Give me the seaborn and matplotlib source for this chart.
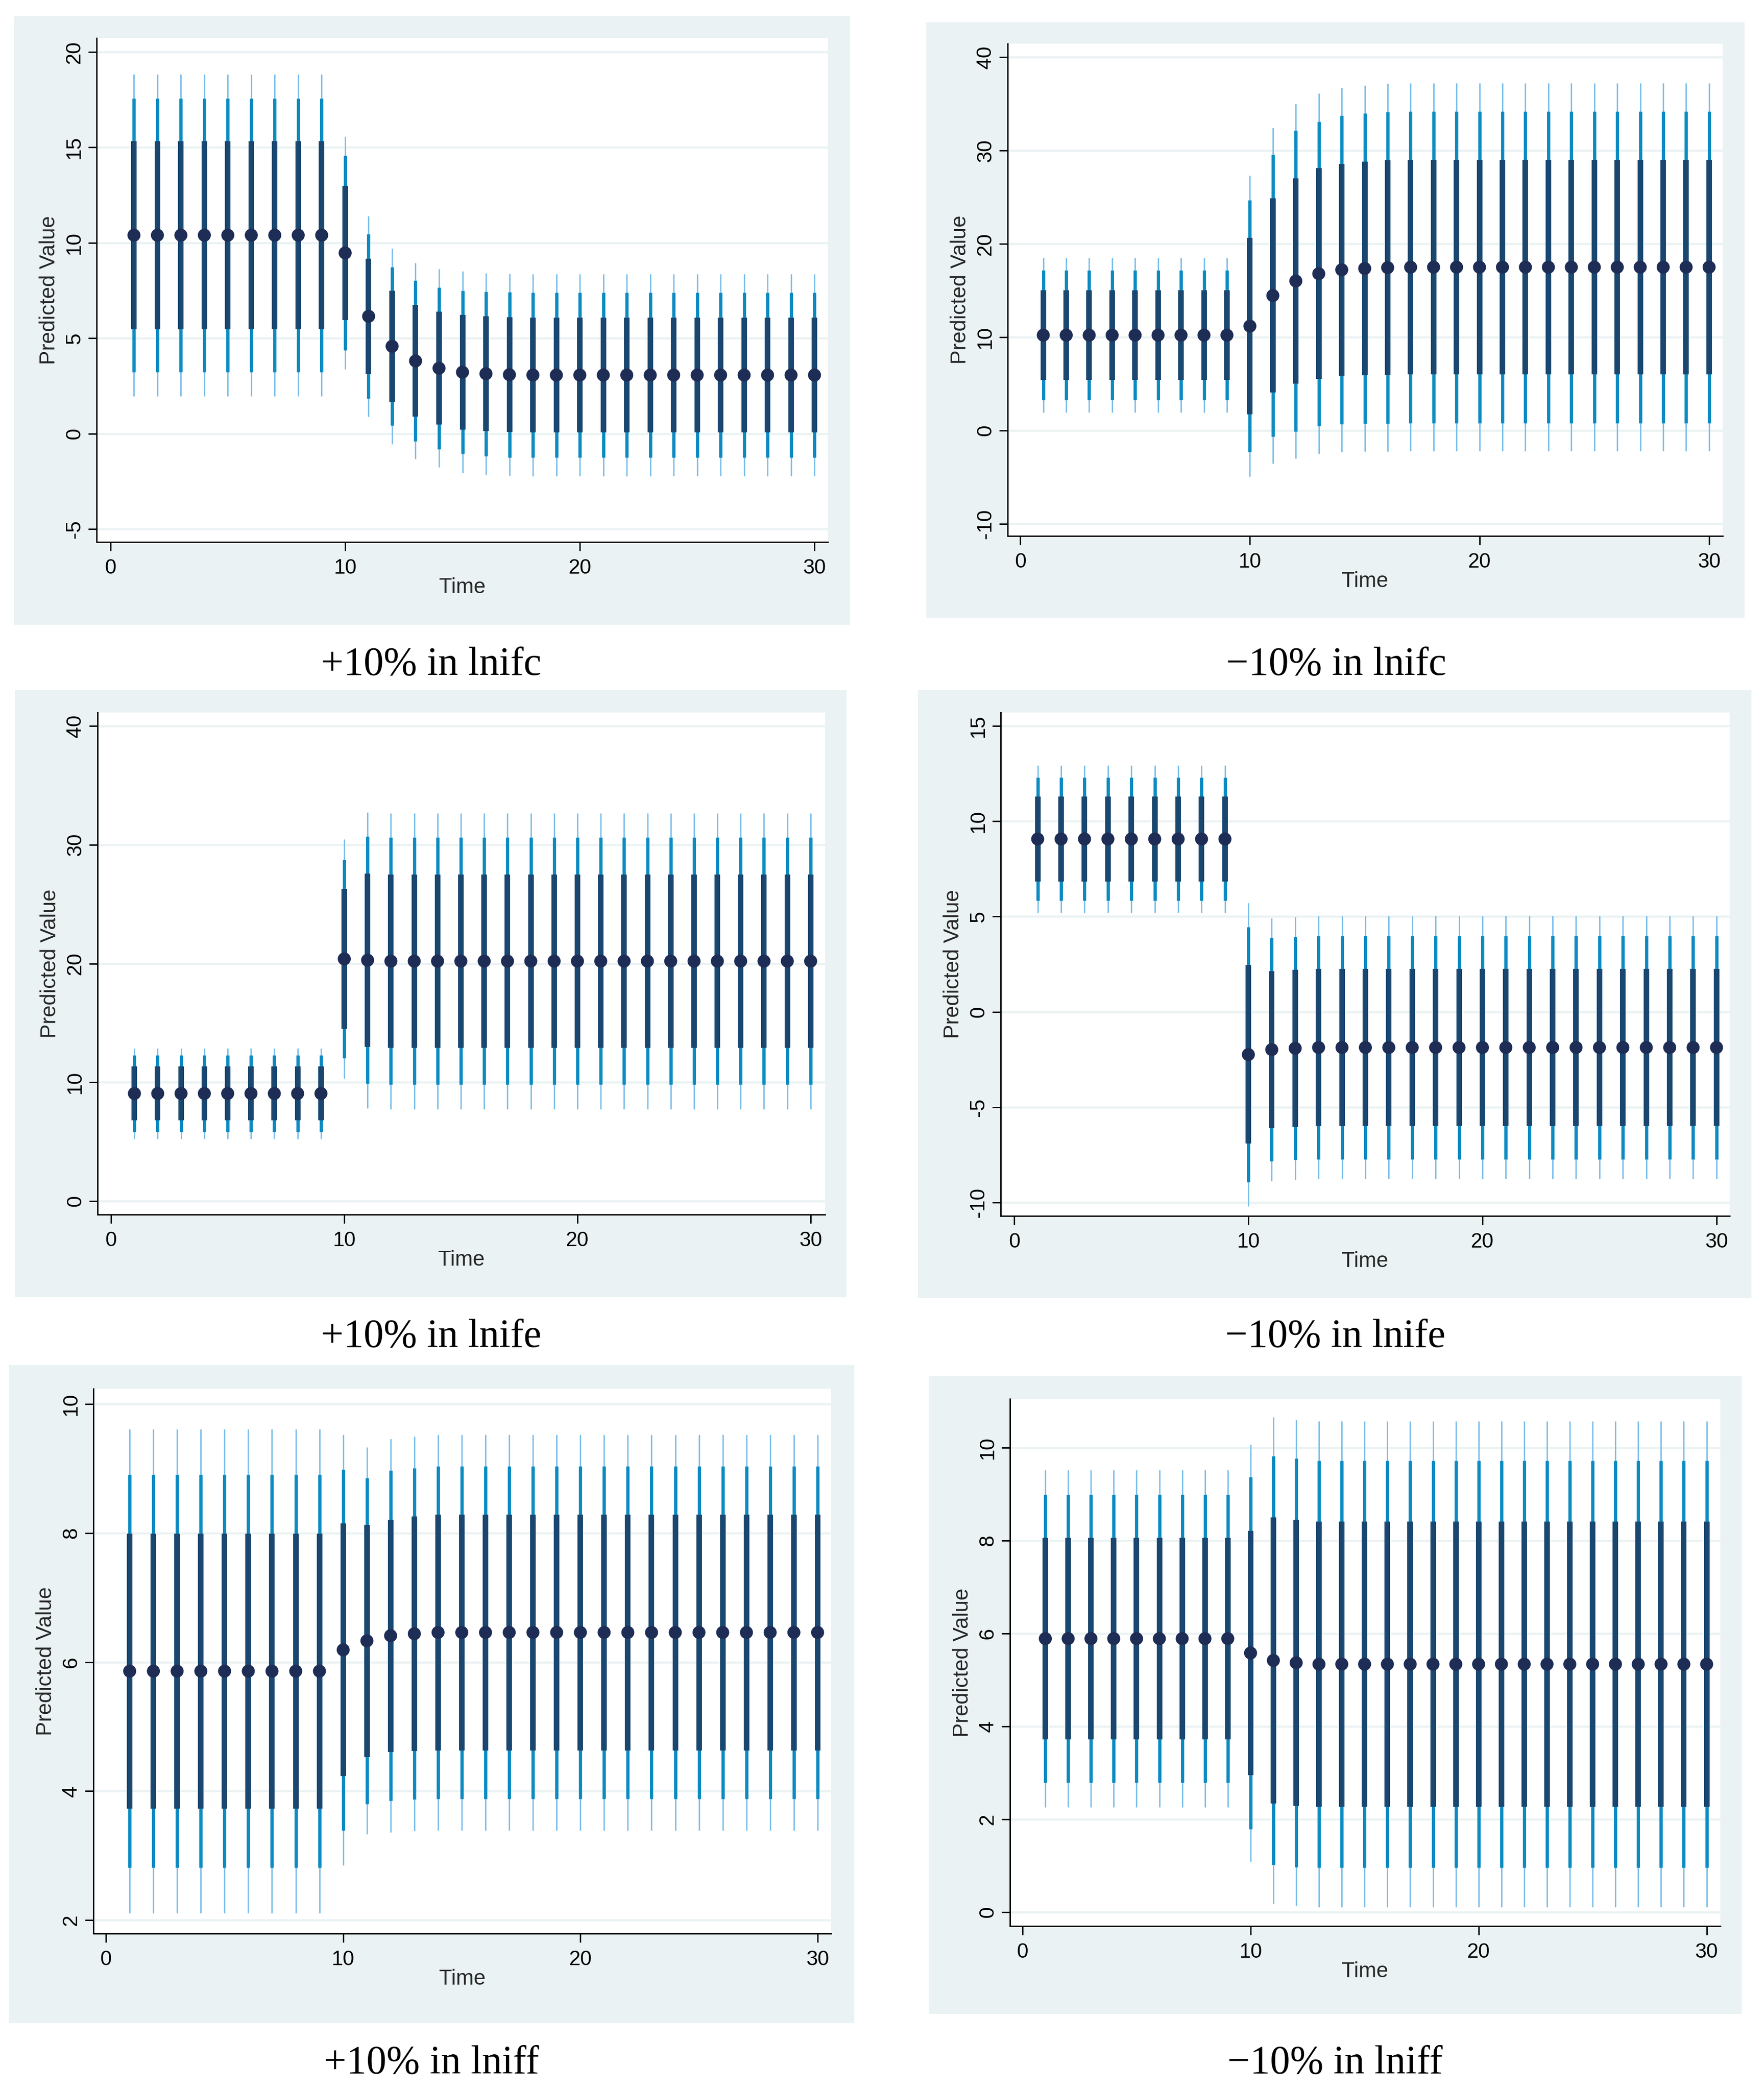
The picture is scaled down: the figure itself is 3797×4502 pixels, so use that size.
import numpy as np
import pandas as pd
import matplotlib
matplotlib.use("Agg")
import matplotlib.pyplot as plt
import seaborn as sns
from matplotlib.patches import Rectangle

# ---------------- data ----------------
time = list(range(1, 31))

titles = ["+10% in lnifc", "\u221210% in lnifc",
          "+10% in lnife", "\u221210% in lnife",
          "+10% in lniff", "\u221210% in lniff"]

# panel 1: +10% in lnifc
lnifc_up_mean = [10.40, 10.40, 10.40, 10.40, 10.40, 10.40, 10.40, 10.40, 10.40, 9.47,
                 6.15, 4.58, 3.81, 3.43, 3.22, 3.14, 3.09, 3.07, 3.07, 3.07,
                 3.07, 3.07, 3.07, 3.07, 3.07, 3.07, 3.07, 3.07, 3.07, 3.07]
lnifc_up_in = [4.93, 4.93, 4.93, 4.93, 4.93, 4.93, 4.93, 4.93, 4.93, 3.52,
               3.02, 2.92, 2.93, 2.96, 3.00, 3.00, 3.00, 3.00, 3.00, 3.00,
               3.00, 3.00, 3.00, 3.00, 3.00, 3.00, 3.00, 3.00, 3.00, 3.00]
lnifc_up_mid = [7.17, 7.17, 7.17, 7.17, 7.17, 7.17, 7.17, 7.17, 7.17, 5.10,
                4.32, 4.15, 4.22, 4.24, 4.28, 4.31, 4.33, 4.33, 4.33, 4.33,
                4.33, 4.33, 4.33, 4.33, 4.33, 4.33, 4.33, 4.33, 4.33, 4.33]
lnifc_up_out = [8.43, 8.43, 8.43, 8.43, 8.43, 8.43, 8.43, 8.43, 8.43, 6.10,
                5.25, 5.12, 5.14, 5.20, 5.28, 5.28, 5.30, 5.30, 5.30, 5.30,
                5.30, 5.30, 5.30, 5.30, 5.30, 5.30, 5.30, 5.30, 5.30, 5.30]

# panel 2: -10% in lnifc
lnifc_dn_mean = [10.22, 10.22, 10.22, 10.22, 10.22, 10.22, 10.22, 10.22, 10.22, 11.19,
                 14.46, 16.02, 16.80, 17.22, 17.36, 17.45, 17.50, 17.50, 17.50, 17.50,
                 17.50, 17.50, 17.50, 17.50, 17.50, 17.50, 17.50, 17.50, 17.50, 17.50]
lnifc_dn_in = [4.80, 4.80, 4.80, 4.80, 4.80, 4.80, 4.80, 4.80, 4.80, 9.45,
               10.40, 11.00, 11.30, 11.35, 11.45, 11.50, 11.50, 11.50, 11.50, 11.50,
               11.50, 11.50, 11.50, 11.50, 11.50, 11.50, 11.50, 11.50, 11.50, 11.50]
lnifc_dn_mid = [6.95, 6.95, 6.95, 6.95, 6.95, 6.95, 6.95, 6.95, 6.95, 13.50,
                15.10, 16.10, 16.30, 16.50, 16.60, 16.70, 16.70, 16.70, 16.70, 16.70,
                16.70, 16.70, 16.70, 16.70, 16.70, 16.70, 16.70, 16.70, 16.70, 16.70]
lnifc_dn_out = [8.30, 8.30, 8.30, 8.30, 8.30, 8.30, 8.30, 8.30, 8.30, 16.10,
                18.00, 19.00, 19.30, 19.50, 19.60, 19.70, 19.70, 19.70, 19.70, 19.70,
                19.70, 19.70, 19.70, 19.70, 19.70, 19.70, 19.70, 19.70, 19.70, 19.70]

# panel 3: +10% in lnife
lnife_up_mean = [9.06, 9.06, 9.06, 9.06, 9.06, 9.06, 9.06, 9.06, 9.06, 20.39,
                 20.28, 20.20, 20.20, 20.20, 20.20, 20.20, 20.20, 20.20, 20.20, 20.20,
                 20.20, 20.20, 20.20, 20.20, 20.20, 20.20, 20.20, 20.20, 20.20, 20.20]
lnife_up_in = [2.27, 2.27, 2.27, 2.27, 2.27, 2.27, 2.27, 2.27, 2.27, 5.90,
               7.30, 7.30, 7.30, 7.30, 7.30, 7.30, 7.30, 7.30, 7.30, 7.30,
               7.30, 7.30, 7.30, 7.30, 7.30, 7.30, 7.30, 7.30, 7.30, 7.30]
lnife_up_mid = [3.22, 3.22, 3.22, 3.22, 3.22, 3.22, 3.22, 3.22, 3.22, 8.35,
                10.40, 10.40, 10.40, 10.40, 10.40, 10.40, 10.40, 10.40, 10.40, 10.40,
                10.40, 10.40, 10.40, 10.40, 10.40, 10.40, 10.40, 10.40, 10.40, 10.40]
lnife_up_out = [3.80, 3.80, 3.80, 3.80, 3.80, 3.80, 3.80, 3.80, 3.80, 10.05,
                12.44, 12.44, 12.44, 12.44, 12.44, 12.44, 12.44, 12.44, 12.44, 12.44,
                12.44, 12.44, 12.44, 12.44, 12.44, 12.44, 12.44, 12.44, 12.44, 12.44]

# panel 4: -10% in lnife
lnife_dn_mean = [9.07, 9.07, 9.07, 9.07, 9.07, 9.07, 9.07, 9.07, 9.07, -2.24,
                 -1.98, -1.91, -1.87, -1.87, -1.87, -1.87, -1.87, -1.87, -1.87, -1.87,
                 -1.87, -1.87, -1.87, -1.87, -1.87, -1.87, -1.87, -1.87, -1.87, -1.87]
lnife_dn_in = [2.22, 2.22, 2.22, 2.22, 2.22, 2.22, 2.22, 2.22, 2.22, 4.68,
               4.12, 4.12, 4.12, 4.12, 4.12, 4.12, 4.12, 4.12, 4.12, 4.12,
               4.12, 4.12, 4.12, 4.12, 4.12, 4.12, 4.12, 4.12, 4.12, 4.12]
lnife_dn_mid = [3.24, 3.24, 3.24, 3.24, 3.24, 3.24, 3.24, 3.24, 3.24, 6.70,
                5.86, 5.86, 5.86, 5.86, 5.86, 5.86, 5.86, 5.86, 5.86, 5.86,
                5.86, 5.86, 5.86, 5.86, 5.86, 5.86, 5.86, 5.86, 5.86, 5.86]
lnife_dn_out = [3.86, 3.86, 3.86, 3.86, 3.86, 3.86, 3.86, 3.86, 3.86, 7.95,
                6.90, 6.90, 6.90, 6.90, 6.90, 6.90, 6.90, 6.90, 6.90, 6.90,
                6.90, 6.90, 6.90, 6.90, 6.90, 6.90, 6.90, 6.90, 6.90, 6.90]

# panel 5: +10% in lniff
lniff_up_mean = [5.86, 5.86, 5.86, 5.86, 5.86, 5.86, 5.86, 5.86, 5.86, 6.19,
                 6.33, 6.41, 6.44, 6.46, 6.46, 6.46, 6.46, 6.46, 6.46, 6.46,
                 6.46, 6.46, 6.46, 6.46, 6.46, 6.46, 6.46, 6.46, 6.46, 6.46]
lniff_up_in = [2.13, 2.13, 2.13, 2.13, 2.13, 2.13, 2.13, 2.13, 2.13, 1.96,
               1.80, 1.80, 1.82, 1.83, 1.83, 1.83, 1.83, 1.83, 1.83, 1.83,
               1.83, 1.83, 1.83, 1.83, 1.83, 1.83, 1.83, 1.83, 1.83, 1.83]
lniff_up_mid = [3.05, 3.05, 3.05, 3.05, 3.05, 3.05, 3.05, 3.05, 3.05, 2.80,
                2.53, 2.56, 2.57, 2.58, 2.58, 2.58, 2.58, 2.58, 2.58, 2.58,
                2.58, 2.58, 2.58, 2.58, 2.58, 2.58, 2.58, 2.58, 2.58, 2.58]
lniff_up_out = [3.75, 3.75, 3.75, 3.75, 3.75, 3.75, 3.75, 3.75, 3.75, 3.34,
                3.00, 3.05, 3.06, 3.07, 3.07, 3.07, 3.07, 3.07, 3.07, 3.07,
                3.07, 3.07, 3.07, 3.07, 3.07, 3.07, 3.07, 3.07, 3.07, 3.07]

# panel 6: -10% in lniff
lniff_dn_mean = [5.89, 5.89, 5.89, 5.89, 5.89, 5.89, 5.89, 5.89, 5.89, 5.58,
                 5.42, 5.37, 5.34, 5.34, 5.34, 5.34, 5.34, 5.34, 5.34, 5.34,
                 5.34, 5.34, 5.34, 5.34, 5.34, 5.34, 5.34, 5.34, 5.34, 5.34]
lniff_dn_in = [2.17, 2.17, 2.17, 2.17, 2.17, 2.17, 2.17, 2.17, 2.17, 2.63,
               3.08, 3.08, 3.07, 3.07, 3.07, 3.07, 3.07, 3.07, 3.07, 3.07,
               3.07, 3.07, 3.07, 3.07, 3.07, 3.07, 3.07, 3.07, 3.07, 3.07]
lniff_dn_mid = [3.10, 3.10, 3.10, 3.10, 3.10, 3.10, 3.10, 3.10, 3.10, 3.79,
                4.40, 4.40, 4.38, 4.38, 4.38, 4.38, 4.38, 4.38, 4.38, 4.38,
                4.38, 4.38, 4.38, 4.38, 4.38, 4.38, 4.38, 4.38, 4.38, 4.38]
lniff_dn_out = [3.63, 3.63, 3.63, 3.63, 3.63, 3.63, 3.63, 3.63, 3.63, 4.49,
                5.24, 5.23, 5.23, 5.23, 5.23, 5.23, 5.23, 5.23, 5.23, 5.23,
                5.23, 5.23, 5.23, 5.23, 5.23, 5.23, 5.23, 5.23, 5.23, 5.23]

yticks_list = [[-5, 0, 5, 10, 15, 20],
               [-10, 0, 10, 20, 30, 40],
               [0, 10, 20, 30, 40],
               [-10, -5, 0, 5, 10, 15],
               [2, 4, 6, 8, 10],
               [0, 2, 4, 6, 8, 10]]
xticks = [0, 10, 20, 30]

series = [
    (lnifc_up_mean, lnifc_up_in, lnifc_up_mid, lnifc_up_out),
    (lnifc_dn_mean, lnifc_dn_in, lnifc_dn_mid, lnifc_dn_out),
    (lnife_up_mean, lnife_up_in, lnife_up_mid, lnife_up_out),
    (lnife_dn_mean, lnife_dn_in, lnife_dn_mid, lnife_dn_out),
    (lniff_up_mean, lniff_up_in, lniff_up_mid, lniff_up_out),
    (lniff_dn_mean, lniff_dn_in, lniff_dn_mid, lniff_dn_out),
]

# ---------------- layout (pixels in the 3797x4502 canvas) ----------------
W, H = 3797, 4502
bg_boxes = [(30, 35, 1830, 1345), (1994, 48, 3755, 1330),
            (32, 1486, 1822, 2793), (1976, 1486, 3770, 2795),
            (19, 2939, 1839, 4356), (1999, 2963, 3749, 4336)]
plot_boxes = [(208, 82, 1782, 1167), (2169, 94, 3708, 1154),
              (210, 1534, 1776, 2615), (2154, 1534, 3723, 2618),
              (201, 2990, 1789, 4163), (2174, 3012, 3703, 4147)]
xlims = [(-0.59, 30.57), (-0.55, 30.59), (-0.58, 30.62),
         (-0.58, 30.56), (-0.53, 30.57), (-0.55, 30.60)]
ylims = [(-5.68, 20.73), (-11.29, 41.44), (-1.13, 41.13),
         (-10.71, 15.71), (1.79, 10.24), (-0.30, 11.05)]
title_pos = [(928, 1453), (2876, 1453), (928, 2900),
             (2874, 2900), (929, 4464), (2874, 4464)]

C_BG = "#EAF2F3"
C_OUT = "#7DBFEA"
C_MID = "#0A8BC2"
C_IN = "#1A476F"
C_DOT = "#1E2D55"

sns.set_style("white")
plt.rcParams["font.family"] = ["Liberation Sans", "DejaVu Sans"]
plt.rcParams["axes.unicode_minus"] = False

fig = plt.figure(figsize=(W / 100, H / 100), dpi=100)
fig.patch.set_facecolor("white")

PX = 0.72  # points per pixel at dpi 100

for i in range(6):
    bx0, by0, bx1, by1 = bg_boxes[i]
    fig.add_artist(Rectangle((bx0 / W, 1 - by1 / H), (bx1 - bx0) / W, (by1 - by0) / H,
                             transform=fig.transFigure, facecolor=C_BG,
                             edgecolor="none", zorder=-5))
    px0, py0, px1, py1 = plot_boxes[i]
    aw, ah = px1 - px0, py1 - py0
    ax = fig.add_axes([px0 / W, 1 - py1 / H, aw / W, ah / H])
    ax.set_facecolor("white")

    m, hin, hmid, hout = series[i]
    df = pd.DataFrame({"time": time, "mean": m, "hin": hin, "hmid": hmid, "hout": hout})

    ax.vlines(df["time"], df["mean"] - df["hout"], df["mean"] + df["hout"],
              color=C_OUT, lw=3 * PX, capstyle="butt", zorder=2)
    ax.vlines(df["time"], df["mean"] - df["hmid"], df["mean"] + df["hmid"],
              color=C_MID, lw=7 * PX, capstyle="butt", zorder=3)
    ax.vlines(df["time"], df["mean"] - df["hin"], df["mean"] + df["hin"],
              color=C_IN, lw=12 * PX, capstyle="butt", zorder=4)
    sns.scatterplot(data=df, x="time", y="mean", ax=ax, color=C_DOT,
                    s=(28 * PX) ** 2, edgecolor="none", linewidth=0,
                    zorder=5, legend=False)

    ax.set_xlim(*xlims[i])
    ax.set_ylim(*ylims[i])
    ax.set_xticks(xticks)
    ax.set_xticklabels([str(v) for v in xticks])
    ax.set_yticks(yticks_list[i])
    ax.set_yticklabels([str(v) for v in yticks_list[i]])

    ax.yaxis.grid(True, color=C_BG, lw=4.5 * PX)
    ax.xaxis.grid(False)
    ax.set_axisbelow(True)

    for s in ["top", "right"]:
        ax.spines[s].set_visible(False)
    for s in ["left", "bottom"]:
        ax.spines[s].set_visible(True)
        ax.spines[s].set_color("black")
        ax.spines[s].set_linewidth(3 * PX)

    ax.tick_params(axis="both", which="major", direction="out", color="black",
                   width=3 * PX, labelsize=32, labelcolor="black",
                   left=True, bottom=True)
    ax.tick_params(axis="y", length=18 * PX, pad=9 * PX)
    ax.tick_params(axis="x", length=19 * PX, pad=17 * PX)
    plt.setp(ax.get_yticklabels(), rotation=90, va="center", ha="right")

    ax.set_xlabel("Time", fontsize=33, va="center")
    ax.xaxis.set_label_coords(0.5, -98 / ah)
    ax.set_ylabel("Predicted Value", fontsize=33, va="center")
    ax.yaxis.set_label_coords(-102 / aw, 0.5)

    tx, ty = title_pos[i]
    fig.text(tx / W, 1 - ty / H, titles[i], ha="center", va="baseline",
             fontsize=62, family=["Liberation Serif", "DejaVu Serif"], color="black")

fig.savefig("out.png", dpi=100, facecolor="white")
